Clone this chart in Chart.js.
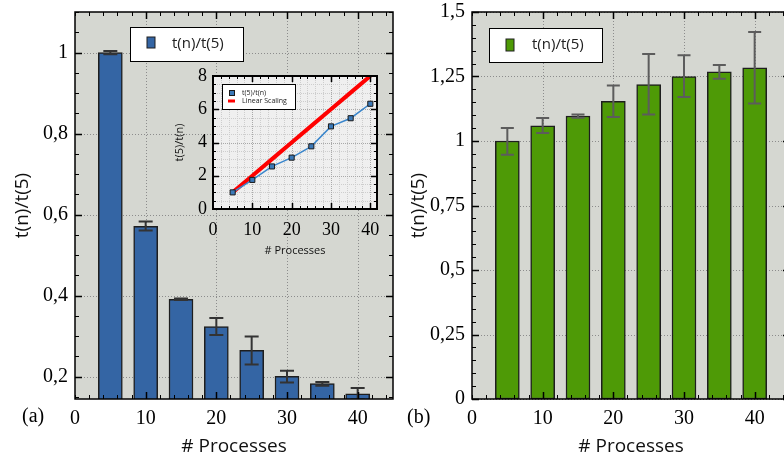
<!DOCTYPE html>
<html><head><meta charset="utf-8">
<script src="https://cdn.jsdelivr.net/npm/chart.js@4.4.1/dist/chart.umd.min.js"></script>
<style>
html,body{margin:0;padding:0;background:#fff;overflow:hidden;width:784px;height:458px;position:relative;}
canvas{position:absolute;}
#c1{left:0;top:0}
#c3{left:396px;top:0}
#c2{left:165px;top:65px}
</style></head><body>
<canvas id="c1" width="400" height="458"></canvas>
<canvas id="c3" width="400" height="458"></canvas>
<canvas id="c2" width="225" height="200"></canvas>
<script>
// ---- data ----
const processes = [5, 10, 15, 20, 25, 30, 35, 40];
const leftValues = [1.0, 0.571, 0.391, 0.3235, 0.265, 0.201, 0.183, 0.158];
const leftErrLow = [0.996, 0.561, 0.389, 0.303, 0.230, 0.186, 0.178, 0.144];
const leftErrHigh = [1.004, 0.583, 0.393, 0.345, 0.299, 0.215, 0.187, 0.172];
const rightValues = [1.0, 1.059, 1.097, 1.154, 1.219, 1.25, 1.268, 1.284];
const rightErrLow = [0.947, 1.031, 1.09, 1.093, 1.103, 1.171, 1.241, 1.145];
const rightErrHigh = [1.05, 1.089, 1.103, 1.215, 1.337, 1.332, 1.295, 1.422];
const speedup = [1.0, 1.75, 2.56, 3.09, 3.77, 4.97, 5.46, 6.33];
const linearScaling = [1, 2, 3, 4, 5, 6, 7, 8];
const xTickLabels = [0, 10, 20, 30, 40];
const leftYTickLabels = [0.2, 0.4, 0.6, 0.8, 1];
const rightYTickLabels = [0, 0.25, 0.5, 0.75, 1, 1.25, 1.5];
const insetYTickLabels = [0, 2, 4, 6, 8];
const seriesLabel = 't(n)/t(5)';
const insetLabels = ['t(5)/t(n)', 'Linear Scaling'];

const SERIF = '"Liberation Serif", "Times New Roman", serif';
const SANS = '"Open Sans", "Noto Sans", sans-serif';
const fmt = v => String(v).replace('.', ',');
const pts = (xs, ys) => xs.map((x, i) => ({x: x, y: ys[i]}));

function range(a, b, step) {
  const out = [];
  const n = Math.round((b - a) / step);
  for (let i = 0; i <= n; i++) out.push(+(a + i * step).toFixed(6));
  return out;
}

const decor = {
  id: 'decor',
  beforeDraw(chart, args, o) {
    const {ctx, chartArea: a} = chart;
    const xs = chart.scales.x, ys = chart.scales.y;
    ctx.save();
    ctx.fillStyle = o.bg;
    ctx.fillRect(a.left, a.top, a.right - a.left, a.bottom - a.top);
    ctx.lineWidth = 1;
    const vline = (v, col) => { const p = Math.round(xs.getPixelForValue(v)) + 0.5; ctx.strokeStyle = col; ctx.beginPath(); ctx.moveTo(p, a.top); ctx.lineTo(p, a.bottom); ctx.stroke(); };
    const hline = (v, col) => { const p = Math.round(ys.getPixelForValue(v)) + 0.5; ctx.strokeStyle = col; ctx.beginPath(); ctx.moveTo(a.left, p); ctx.lineTo(a.right, p); ctx.stroke(); };
    ctx.setLineDash(o.gridDash);
    if (o.minorGrid) {
      o.xMinor.forEach(v => vline(v, o.minorGrid));
      o.yMinor.forEach(v => hline(v, o.minorGrid));
    }
    o.xMajor.forEach(v => vline(v, o.grid));
    o.yMajor.forEach(v => hline(v, o.grid));
    ctx.restore();
  },
  afterDatasetsDraw(chart, args, o) {
    if (!o.err) return;
    const {ctx, chartArea: a} = chart;
    const xs = chart.scales.x, ys = chart.scales.y;
    ctx.save();
    ctx.beginPath(); ctx.rect(a.left, a.top, a.right - a.left, a.bottom - a.top); ctx.clip();
    ctx.strokeStyle = o.err.color; ctx.lineWidth = o.err.width;
    o.err.x.forEach((x, i) => {
      const px = xs.getPixelForValue(x);
      const y1 = ys.getPixelForValue(o.err.low[i]), y2 = ys.getPixelForValue(o.err.high[i]);
      ctx.beginPath();
      ctx.moveTo(px, y1); ctx.lineTo(px, y2);
      ctx.moveTo(px - o.err.cap, y1); ctx.lineTo(px + o.err.cap, y1);
      ctx.moveTo(px - o.err.cap, y2); ctx.lineTo(px + o.err.cap, y2);
      ctx.stroke();
    });
    ctx.restore();
  },
  afterDraw(chart, args, o) {
    const {ctx, chartArea: a} = chart;
    const xs = chart.scales.x, ys = chart.scales.y;
    ctx.save();
    ctx.strokeStyle = '#000'; ctx.lineWidth = 1;
    const tickX = (v, len) => { const p = Math.round(xs.getPixelForValue(v)) + 0.5; ctx.beginPath(); ctx.moveTo(p, a.bottom); ctx.lineTo(p, a.bottom - len); ctx.moveTo(p, a.top); ctx.lineTo(p, a.top + len); ctx.stroke(); };
    const tickY = (v, len) => { const p = Math.round(ys.getPixelForValue(v)) + 0.5; ctx.beginPath(); ctx.moveTo(a.left, p); ctx.lineTo(a.left + len, p); ctx.moveTo(a.right, p); ctx.lineTo(a.right - len, p); ctx.stroke(); };
    o.xMinor.forEach(v => tickX(v, o.minorLen));
    o.yMinor.forEach(v => tickY(v, o.minorLen));
    ctx.lineWidth = 1.5;
    o.xMajor.forEach(v => tickX(v, o.majorLen));
    o.yMajor.forEach(v => tickY(v, o.majorLen));
    ctx.lineWidth = o.borderWidth;
    ctx.strokeRect(a.left, a.top, a.right - a.left, a.bottom - a.top);
    if (o.legend) {
      const L = o.legend;
      ctx.fillStyle = '#fff'; ctx.fillRect(L.x, L.y, L.w, L.h);
      ctx.lineWidth = 1; ctx.strokeStyle = '#000'; ctx.strokeRect(L.x + 0.5, L.y + 0.5, L.w, L.h);
      ctx.font = L.font; ctx.textBaseline = 'middle'; ctx.textAlign = 'left';
      L.items.forEach((it, i) => {
        const ds = chart.data.datasets[i];
        if (it.kind === 'box') {
          ctx.fillStyle = it.fill; ctx.fillRect(it.sx, it.sy, it.sw, it.sh);
          ctx.strokeStyle = it.stroke; ctx.lineWidth = it.lw; ctx.strokeRect(it.sx, it.sy, it.sw, it.sh);
        } else {
          ctx.strokeStyle = it.stroke; ctx.lineWidth = it.lw;
          ctx.beginPath(); ctx.moveTo(it.sx, it.sy); ctx.lineTo(it.sx + it.sw, it.sy); ctx.stroke();
        }
        ctx.fillStyle = '#222';
        ctx.fillText(ds.label, it.tx, it.ty);
      });
    }
    if (o.tag) {
      ctx.fillStyle = '#000'; ctx.font = '20px ' + SERIF; ctx.textBaseline = 'middle'; ctx.textAlign = 'left';
      ctx.fillText(o.tag.text, o.tag.x, o.tag.y);
    }
    ctx.restore();
  }
};

function noPad(s) { s.paddingTop = 0; s.paddingBottom = 0; s.paddingLeft = 0; s.paddingRight = 0; }

function axisX(min, max, ticks, size, pad, titleSize, titlePad, height) {
  return {
    type: 'linear', min: min, max: max, offset: false,
    grid: {display: false, drawTicks: false, offset: false},
    border: {display: false},
    afterBuildTicks: s => { s.ticks = ticks.map(v => ({value: v})); },
    afterFit: s => { s.height = height; noPad(s); },
    ticks: {autoSkip: false, maxRotation: 0, padding: pad, color: '#000', font: {family: SERIF, size: size}, callback: fmt},
    title: {display: true, text: '# Processes', color: '#111', font: {family: SANS, size: titleSize}, padding: {top: 0, bottom: titlePad}}
  };
}
function axisY(min, max, ticks, size, pad, title, titleSize, titlePad, width) {
  return {
    type: 'linear', min: min, max: max,
    grid: {display: false, drawTicks: false},
    border: {display: false},
    afterBuildTicks: s => { s.ticks = ticks.map(v => ({value: v})); },
    afterFit: s => { s.width = width; noPad(s); },
    ticks: {autoSkip: false, padding: pad, color: '#000', font: {family: SERIF, size: size}, callback: fmt},
    title: {display: true, text: title, color: '#111', font: {family: SANS, size: titleSize}, padding: {top: titlePad, bottom: 0}}
  };
}

// ---- left chart ----
new Chart(document.getElementById('c1'), {
  type: 'bar',
  data: {datasets: [{
    label: seriesLabel, data: pts(processes, leftValues),
    backgroundColor: '#3465a4', borderColor: '#1e1e1e', borderWidth: 1.5, borderSkipped: false, barThickness: 24
  }]},
  options: {
    responsive: false, animation: false, events: [],
    layout: {padding: {left: 0, top: 12, right: 7, bottom: 0}},
    plugins: {legend: {display: false}, tooltip: {enabled: false},
      decor: {
        bg: '#d5d7d1', grid: '#8c8c8c', minorGrid: null, gridDash: [1, 2],
        xMajor: [10, 20, 30, 40], yMajor: leftYTickLabels,
        xMinor: range(0, 44, 2), yMinor: range(0.15, 1.1, 0.05),
        majorLen: 7, minorLen: 4, borderWidth: 1.5,
        err: {x: processes, low: leftErrLow, high: leftErrHigh, color: '#333', width: 2, cap: 7},
        legend: {x: 130, y: 27, w: 113, h: 34, font: '15px ' + SANS,
          items: [{kind: 'box', fill: '#3465a4', stroke: '#1e1e1e', lw: 1, sx: 147, sy: 37, sw: 8, sh: 11, tx: 172, ty: 44}]},
        tag: {text: '(a)', x: 22, y: 417}
      }},
    scales: {
      x: axisX(0, 45, xTickLabels, 20, 8, 19, 0, 59),
      y: axisY(0.145, 1.1, leftYTickLabels, 20, 7, 't(n)/t(5)', 19, 11, 75)
    }
  },
  plugins: [decor]
});

// ---- right chart ----
new Chart(document.getElementById('c3'), {
  type: 'bar',
  data: {datasets: [{
    label: seriesLabel, data: pts(processes, rightValues),
    backgroundColor: '#4e9a06', borderColor: '#1e1e1e', borderWidth: 1.5, borderSkipped: false, barThickness: 24
  }]},
  options: {
    responsive: false, animation: false, events: [],
    layout: {padding: {left: 0, top: 12, right: 6, bottom: 0}},
    plugins: {legend: {display: false}, tooltip: {enabled: false},
      decor: {
        bg: '#d5d7d1', grid: '#8c8c8c', minorGrid: null, gridDash: [1, 2],
        xMajor: [10, 20, 30, 40], yMajor: rightYTickLabels,
        xMinor: range(0, 44, 2), yMinor: range(0, 1.5, 0.05),
        majorLen: 7, minorLen: 4, borderWidth: 1.5,
        err: {x: processes, low: rightErrLow, high: rightErrHigh, color: '#5c5c5c', width: 2, cap: 6.5},
        legend: {x: 93, y: 28, w: 113, h: 34, font: '15px ' + SANS,
          items: [{kind: 'box', fill: '#4e9a06', stroke: '#1e1e1e', lw: 1, sx: 110, sy: 39, sw: 8, sh: 12, tx: 136, ty: 45}]},
        tag: {text: '(b)', x: 11, y: 418}
      }},
    scales: {
      x: axisX(0, 45, xTickLabels, 20, 8, 19, 0, 59),
      y: axisY(0, 1.5, rightYTickLabels, 20, 7, 't(n)/t(5)', 19, 11, 76)
    }
  },
  plugins: [decor]
});

// ---- inset ----
new Chart(document.getElementById('c2'), {
  type: 'line',
  data: {datasets: [
    {label: insetLabels[0], data: pts(processes, speedup), borderColor: '#3a86cc', borderWidth: 1.5,
     pointStyle: 'rect', pointRadius: 3.6, pointBackgroundColor: '#3b79b8', pointBorderColor: '#1a1a1a', pointBorderWidth: 1, tension: 0},
    {label: insetLabels[1], data: pts(processes, linearScaling), borderColor: '#ff0000', borderWidth: 4, pointRadius: 0, tension: 0}
  ]},
  options: {
    responsive: false, animation: false, events: [],
    layout: {padding: {left: 0, top: 11, right: 13, bottom: 0}},
    plugins: {legend: {display: false}, tooltip: {enabled: false},
      decor: {
        bg: '#efefef', grid: '#a9a9a9', minorGrid: '#cdcdcd', gridDash: [1, 1],
        xMajor: [10, 20, 30, 40], yMajor: [2, 4, 6],
        xMinor: range(2, 40, 2), yMinor: range(0.5, 7.5, 0.5),
        majorLen: 6, minorLen: 3, borderWidth: 2,
        legend: {x: 57, y: 19, w: 73, h: 25, font: '7px ' + SANS,
          items: [
            {kind: 'box', fill: '#3b79b8', stroke: '#1a1a1a', lw: 1, sx: 64.5, sy: 25.5, sw: 5, sh: 5, tx: 77, ty: 28},
            {kind: 'line', stroke: '#ff0000', lw: 3, sx: 63, sy: 36, sw: 7, tx: 77, ty: 36}
          ]}
      }},
    scales: {
      x: axisX(0, 41.7, xTickLabels, 18, 10, 11, 8, 56),
      y: axisY(0, 8, insetYTickLabels, 18, 6, 't(5)/t(n)', 11, 8, 48)
    }
  },
  plugins: [decor]
});
</script>
</body></html>
